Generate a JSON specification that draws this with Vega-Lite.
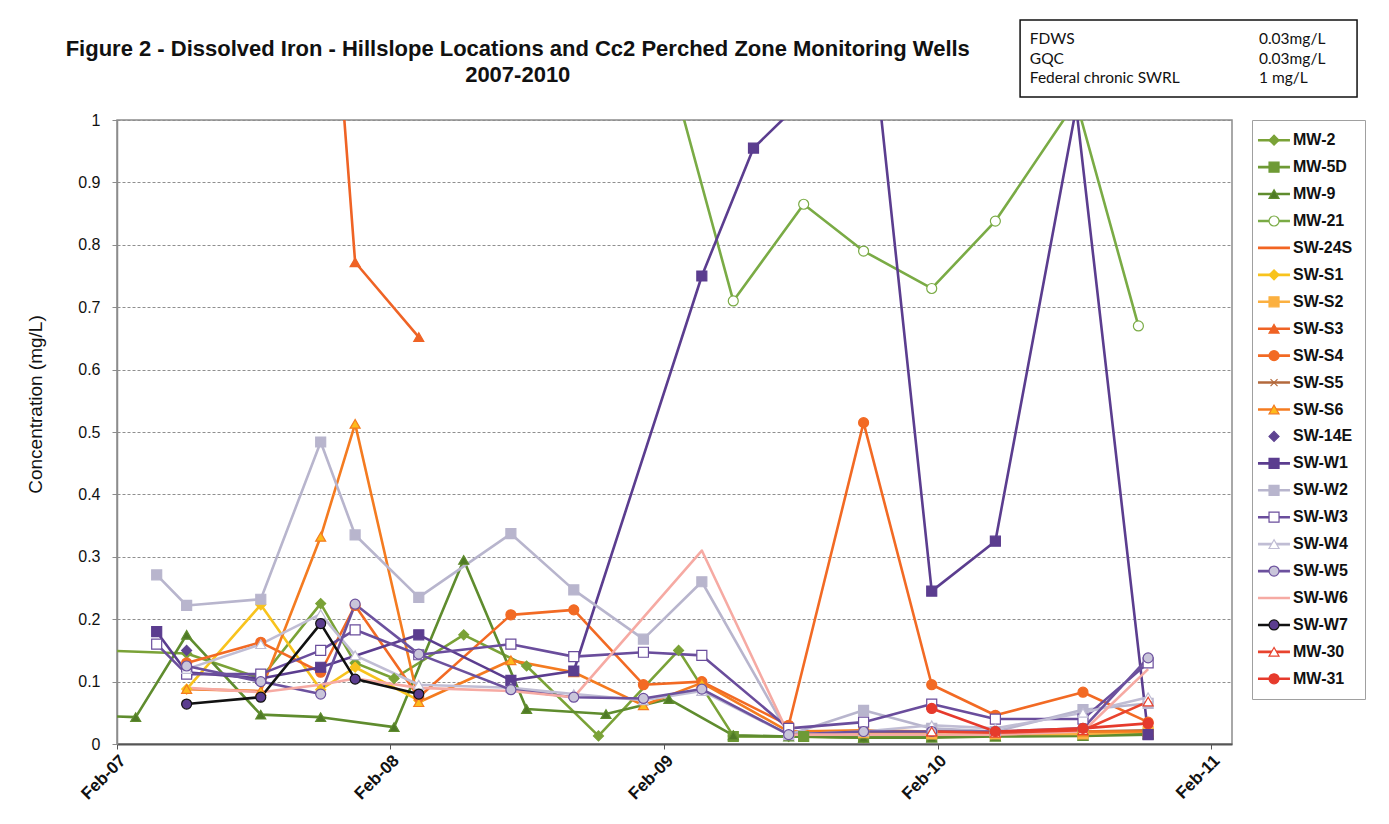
{
  "$schema": "https://vega.github.io/schema/vega-lite/v6.json",
  "background": "white",
  "autosize": {"type": "pad"},
  "padding": {"left": 26, "top": 18, "right": 10, "bottom": 5},
  "bounds": "flush",
  "spacing": 20,
  "resolve": {"scale": {"x": "independent", "y": "independent"}},
  "title": {
    "text": ["Figure 2 - Dissolved Iron - Hillslope Locations and Cc2 Perched Zone Monitoring Wells", "2007-2010"],
    "anchor": "middle",
    "dx": -178,
    "offset": -69,
    "font": "Liberation Sans",
    "fontSize": 22,
    "fontWeight": "bold",
    "lineHeight": 26,
    "color": "#111111"
  },
  "config": {
    "font": "Liberation Sans",
    "axis": {"labelFont": "Liberation Sans", "titleFont": "Liberation Sans"}
  },
  "datasets": {
    "obs": [
      {"s":"MW-2","d":"2007-01-10","v":0.15},{"s":"MW-2","d":"2007-05-05","v":0.145},{"s":"MW-2","d":"2007-08-12","v":0.105},{"s":"MW-2","d":"2007-10-31","v":0.225},{"s":"MW-2","d":"2007-12-16","v":0.13},{"s":"MW-2","d":"2008-02-06","v":0.105},{"s":"MW-2","d":"2008-05-09","v":0.175},{"s":"MW-2","d":"2008-08-01","v":0.125},{"s":"MW-2","d":"2008-11-05","v":0.013},{"s":"MW-2","d":"2009-02-20","v":0.15},{"s":"MW-2","d":"2009-05-04","v":0.013},{"s":"MW-2","d":"2009-07-17","v":0.012},{"s":"MW-2","d":"2009-10-25","v":0.01},{"s":"MW-2","d":"2010-01-24","v":0.012},{"s":"MW-2","d":"2010-04-19","v":0.015},{"s":"MW-2","d":"2010-08-14","v":0.015},{"s":"MW-2","d":"2010-11-09","v":0.02},
      {"s":"MW-5D","d":"2009-05-04","v":0.012},{"s":"MW-5D","d":"2009-08-06","v":0.012},{"s":"MW-5D","d":"2009-10-25","v":0.011},{"s":"MW-5D","d":"2010-01-24","v":0.012},{"s":"MW-5D","d":"2010-04-19","v":0.013},{"s":"MW-5D","d":"2010-08-14","v":0.014},{"s":"MW-5D","d":"2010-11-09","v":0.016},
      {"s":"MW-9","d":"2007-01-10","v":0.045},{"s":"MW-9","d":"2007-02-26","v":0.043},{"s":"MW-9","d":"2007-05-05","v":0.175},{"s":"MW-9","d":"2007-08-12","v":0.047},{"s":"MW-9","d":"2007-10-31","v":0.043},{"s":"MW-9","d":"2008-02-06","v":0.027},{"s":"MW-9","d":"2008-05-09","v":0.295},{"s":"MW-9","d":"2008-08-01","v":0.056},{"s":"MW-9","d":"2008-11-15","v":0.048},{"s":"MW-9","d":"2009-02-07","v":0.072},{"s":"MW-9","d":"2009-05-04","v":0.014},{"s":"MW-9","d":"2009-07-17","v":0.012},{"s":"MW-9","d":"2009-10-25","v":0.01},{"s":"MW-9","d":"2010-01-24","v":0.01},{"s":"MW-9","d":"2010-04-19","v":0.012},{"s":"MW-9","d":"2010-08-14","v":0.013},{"s":"MW-9","d":"2010-11-09","v":0.015},
      {"s":"MW-21","d":"2009-01-04","v":1.24},{"s":"MW-21","d":"2009-05-04","v":0.71},{"s":"MW-21","d":"2009-08-06","v":0.865},{"s":"MW-21","d":"2009-10-25","v":0.79},{"s":"MW-21","d":"2010-01-24","v":0.73},{"s":"MW-21","d":"2010-04-19","v":0.838},{"s":"MW-21","d":"2010-08-05","v":1.03},{"s":"MW-21","d":"2010-10-27","v":0.67},
      {"s":"SW-24S","d":"2007-10-31","v":1.6},{"s":"SW-24S","d":"2007-12-16","v":1.35},
      {"s":"SW-S1","d":"2007-05-05","v":0.088},{"s":"SW-S1","d":"2007-08-12","v":0.223},{"s":"SW-S1","d":"2007-10-31","v":0.087},{"s":"SW-S1","d":"2007-12-16","v":0.123},{"s":"SW-S1","d":"2008-03-10","v":0.07},
      {"s":"SW-S2","d":"2009-07-17","v":0.02},{"s":"SW-S2","d":"2009-10-25","v":0.018},{"s":"SW-S2","d":"2010-01-24","v":0.016},{"s":"SW-S2","d":"2010-04-19","v":0.016},{"s":"SW-S2","d":"2010-08-14","v":0.016},{"s":"SW-S2","d":"2010-11-09","v":0.02},
      {"s":"SW-S3","d":"2007-10-31","v":1.5},{"s":"SW-S3","d":"2007-12-16","v":0.772},{"s":"SW-S3","d":"2008-03-10","v":0.652},
      {"s":"SW-S4","d":"2007-05-05","v":0.13},{"s":"SW-S4","d":"2007-08-12","v":0.163},{"s":"SW-S4","d":"2007-10-31","v":0.115},{"s":"SW-S4","d":"2007-12-16","v":0.222},{"s":"SW-S4","d":"2008-03-10","v":0.075},{"s":"SW-S4","d":"2008-07-11","v":0.207},{"s":"SW-S4","d":"2008-10-03","v":0.215},{"s":"SW-S4","d":"2009-01-04","v":0.095},{"s":"SW-S4","d":"2009-03-23","v":0.1},{"s":"SW-S4","d":"2009-07-17","v":0.03},{"s":"SW-S4","d":"2009-10-25","v":0.515},{"s":"SW-S4","d":"2010-01-24","v":0.095},{"s":"SW-S4","d":"2010-04-19","v":0.046},{"s":"SW-S4","d":"2010-08-14","v":0.083},{"s":"SW-S4","d":"2010-11-09","v":0.035},
      {"s":"SW-S5","d":"2009-07-17","v":0.018},{"s":"SW-S5","d":"2009-10-25","v":0.02},{"s":"SW-S5","d":"2010-01-24","v":0.02},{"s":"SW-S5","d":"2010-04-19","v":0.02},{"s":"SW-S5","d":"2010-08-14","v":0.02},{"s":"SW-S5","d":"2010-11-09","v":0.022},
      {"s":"SW-S6","d":"2007-05-05","v":0.088},{"s":"SW-S6","d":"2007-08-12","v":0.085},{"s":"SW-S6","d":"2007-10-31","v":0.332},{"s":"SW-S6","d":"2007-12-16","v":0.513},{"s":"SW-S6","d":"2008-03-10","v":0.067},{"s":"SW-S6","d":"2008-07-11","v":0.134},{"s":"SW-S6","d":"2008-10-03","v":0.115},{"s":"SW-S6","d":"2009-01-04","v":0.062},{"s":"SW-S6","d":"2009-03-23","v":0.098},{"s":"SW-S6","d":"2009-07-17","v":0.02},{"s":"SW-S6","d":"2009-10-25","v":0.022},{"s":"SW-S6","d":"2010-01-24","v":0.02},{"s":"SW-S6","d":"2010-04-19","v":0.02},{"s":"SW-S6","d":"2010-08-14","v":0.02},{"s":"SW-S6","d":"2010-11-09","v":0.02},
      {"s":"SW-14E","d":"2007-05-05","v":0.15},
      {"s":"SW-W1","d":"2007-03-26","v":0.18},{"s":"SW-W1","d":"2007-05-05","v":0.115},{"s":"SW-W1","d":"2007-08-12","v":0.105},{"s":"SW-W1","d":"2007-10-31","v":0.123},{"s":"SW-W1","d":"2008-03-10","v":0.175},{"s":"SW-W1","d":"2008-07-11","v":0.102},{"s":"SW-W1","d":"2008-10-03","v":0.117},{"s":"SW-W1","d":"2009-03-23","v":0.75},{"s":"SW-W1","d":"2009-05-31","v":0.955},{"s":"SW-W1","d":"2009-07-17","v":1.01},{"s":"SW-W1","d":"2009-10-25","v":1.27},{"s":"SW-W1","d":"2010-01-24","v":0.245},{"s":"SW-W1","d":"2010-04-19","v":0.325},{"s":"SW-W1","d":"2010-08-05","v":1.02},{"s":"SW-W1","d":"2010-11-09","v":0.015},
      {"s":"SW-W2","d":"2007-03-26","v":0.271},{"s":"SW-W2","d":"2007-05-05","v":0.222},{"s":"SW-W2","d":"2007-08-12","v":0.232},{"s":"SW-W2","d":"2007-10-31","v":0.484},{"s":"SW-W2","d":"2007-12-16","v":0.335},{"s":"SW-W2","d":"2008-03-10","v":0.235},{"s":"SW-W2","d":"2008-07-11","v":0.337},{"s":"SW-W2","d":"2008-10-03","v":0.247},{"s":"SW-W2","d":"2009-01-04","v":0.168},{"s":"SW-W2","d":"2009-03-23","v":0.26},{"s":"SW-W2","d":"2009-07-17","v":0.015},{"s":"SW-W2","d":"2009-10-25","v":0.054},{"s":"SW-W2","d":"2010-01-24","v":0.025},{"s":"SW-W2","d":"2010-04-19","v":0.02},{"s":"SW-W2","d":"2010-08-14","v":0.055},{"s":"SW-W2","d":"2010-11-09","v":0.065},
      {"s":"SW-W3","d":"2007-03-26","v":0.16},{"s":"SW-W3","d":"2007-05-05","v":0.112},{"s":"SW-W3","d":"2007-08-12","v":0.112},{"s":"SW-W3","d":"2007-10-31","v":0.15},{"s":"SW-W3","d":"2007-12-16","v":0.183},{"s":"SW-W3","d":"2008-03-10","v":0.143},{"s":"SW-W3","d":"2008-07-11","v":0.16},{"s":"SW-W3","d":"2008-10-03","v":0.14},{"s":"SW-W3","d":"2009-01-04","v":0.147},{"s":"SW-W3","d":"2009-03-23","v":0.142},{"s":"SW-W3","d":"2009-07-17","v":0.025},{"s":"SW-W3","d":"2009-10-25","v":0.035},{"s":"SW-W3","d":"2010-01-24","v":0.064},{"s":"SW-W3","d":"2010-04-19","v":0.04},{"s":"SW-W3","d":"2010-08-14","v":0.04},{"s":"SW-W3","d":"2010-11-09","v":0.13},
      {"s":"SW-W4","d":"2007-05-05","v":0.12},{"s":"SW-W4","d":"2007-08-12","v":0.16},{"s":"SW-W4","d":"2007-10-31","v":0.208},{"s":"SW-W4","d":"2007-12-16","v":0.142},{"s":"SW-W4","d":"2008-03-10","v":0.095},{"s":"SW-W4","d":"2008-07-11","v":0.09},{"s":"SW-W4","d":"2008-10-03","v":0.08},{"s":"SW-W4","d":"2009-01-04","v":0.07},{"s":"SW-W4","d":"2009-03-23","v":0.085},{"s":"SW-W4","d":"2009-07-17","v":0.015},{"s":"SW-W4","d":"2009-10-25","v":0.02},{"s":"SW-W4","d":"2010-01-24","v":0.03},{"s":"SW-W4","d":"2010-04-19","v":0.025},{"s":"SW-W4","d":"2010-08-14","v":0.05},{"s":"SW-W4","d":"2010-11-09","v":0.075},
      {"s":"SW-W5","d":"2007-05-05","v":0.125},{"s":"SW-W5","d":"2007-08-12","v":0.1},{"s":"SW-W5","d":"2007-10-31","v":0.08},{"s":"SW-W5","d":"2007-12-16","v":0.224},{"s":"SW-W5","d":"2008-03-10","v":0.144},{"s":"SW-W5","d":"2008-07-11","v":0.087},{"s":"SW-W5","d":"2008-10-03","v":0.075},{"s":"SW-W5","d":"2009-01-04","v":0.073},{"s":"SW-W5","d":"2009-03-23","v":0.088},{"s":"SW-W5","d":"2009-07-17","v":0.015},{"s":"SW-W5","d":"2009-10-25","v":0.02},{"s":"SW-W5","d":"2010-01-24","v":0.02},{"s":"SW-W5","d":"2010-04-19","v":0.02},{"s":"SW-W5","d":"2010-08-14","v":0.025},{"s":"SW-W5","d":"2010-11-09","v":0.138},
      {"s":"SW-W6","d":"2007-05-05","v":0.09},{"s":"SW-W6","d":"2007-08-12","v":0.083},{"s":"SW-W6","d":"2007-10-31","v":0.095},{"s":"SW-W6","d":"2007-12-16","v":0.105},{"s":"SW-W6","d":"2008-03-10","v":0.09},{"s":"SW-W6","d":"2008-07-11","v":0.085},{"s":"SW-W6","d":"2008-10-03","v":0.075},{"s":"SW-W6","d":"2009-03-23","v":0.31},{"s":"SW-W6","d":"2009-07-17","v":0.015},{"s":"SW-W6","d":"2009-10-25","v":0.015},{"s":"SW-W6","d":"2010-01-24","v":0.015},{"s":"SW-W6","d":"2010-04-19","v":0.015},{"s":"SW-W6","d":"2010-08-14","v":0.02},{"s":"SW-W6","d":"2010-11-09","v":0.12},
      {"s":"SW-W7","d":"2007-05-05","v":0.064},{"s":"SW-W7","d":"2007-08-12","v":0.075},{"s":"SW-W7","d":"2007-10-31","v":0.193},{"s":"SW-W7","d":"2007-12-16","v":0.104},{"s":"SW-W7","d":"2008-03-10","v":0.08},
      {"s":"MW-30","d":"2010-01-24","v":0.02},{"s":"MW-30","d":"2010-04-19","v":0.018},{"s":"MW-30","d":"2010-08-14","v":0.022},{"s":"MW-30","d":"2010-11-09","v":0.068},
      {"s":"MW-31","d":"2010-01-24","v":0.057},{"s":"MW-31","d":"2010-04-19","v":0.02},{"s":"MW-31","d":"2010-08-14","v":0.025},{"s":"MW-31","d":"2010-11-09","v":0.033}
    ],
    "series": [
      {"s":"MW-2"},{"s":"MW-5D"},{"s":"MW-9"},{"s":"MW-21"},{"s":"SW-24S"},{"s":"SW-S1"},{"s":"SW-S2"},{"s":"SW-S3"},{"s":"SW-S4"},{"s":"SW-S5"},{"s":"SW-S6"},{"s":"SW-14E"},{"s":"SW-W1"},{"s":"SW-W2"},{"s":"SW-W3"},{"s":"SW-W4"},{"s":"SW-W5"},{"s":"SW-W6"},{"s":"SW-W7"},{"s":"MW-30"},{"s":"MW-31"}
    ],
    "info": [
      {"names": "FDWS\nGQC\nFederal chronic SWRL", "limits": "0.03mg/L\n0.03mg/L\n1 mg/L"}
    ]
  },
  "hconcat": [
    {
      "width": 1115,
      "height": 624,
      "view": {"stroke": "#8c8c8c", "strokeWidth": 1.5},
      "layer": [
        {
          "data": {"name": "obs"},
          "transform": [{"filter": "datum.s !== 'SW-14E'"}],
          "mark": {"type": "line", "strokeWidth": 2.6, "clip": true, "strokeJoin": "round"},
          "encoding": {
            "x": {
              "field": "d", "type": "temporal",
              "scale": {"type": "utc", "domain": [{"year": 2007, "month": 2, "date": 1, "utc": true}, {"year": 2011, "month": 3, "date": 1, "utc": true}]},
              "axis": {
                "values": [{"year": 2007, "month": 2, "date": 1, "utc": true}, {"year": 2008, "month": 2, "date": 1, "utc": true}, {"year": 2009, "month": 2, "date": 1, "utc": true}, {"year": 2010, "month": 2, "date": 1, "utc": true}, {"year": 2011, "month": 2, "date": 1, "utc": true}],
                "format": "%b-%y",
                "labelAngle": -45,
                "labelFontSize": 17,
                "labelFontWeight": "bold",
                "labelColor": "#111111",
                "labelPadding": 3,
                "grid": false,
                "domainColor": "#555555",
                "domainWidth": 2,
                "tickColor": "#555555",
                "tickSize": 5,
                "title": null
              }
            },
            "y": {
              "field": "v", "type": "quantitative",
              "scale": {"domain": [0, 1]},
              "axis": {
                "values": [0, 0.1, 0.2, 0.3, 0.4, 0.5, 0.6, 0.7, 0.8, 0.9, 1],
                "format": ".1~f",
                "grid": true,
                "gridColor": "#8f8f8f",
                "gridDash": [3, 2],
                "gridWidth": 1,
                "domainColor": "#8c8c8c",
                "domainWidth": 1.5,
                "tickColor": "#8c8c8c",
                "tickSize": 5,
                "labelFontSize": 16,
                "labelPadding": 12,
                "labelColor": "#111111",
                "title": "Concentration (mg/L)",
                "titleFontSize": 19,
                "titleFontWeight": "normal",
                "titleColor": "#111111",
                "titlePadding": 32,
                "titleY": 284
              }
            },
            "stroke": {
              "field": "s", "type": "nominal", "legend": null,
              "scale": {
                "domain": ["MW-2","MW-5D","MW-9","MW-21","SW-24S","SW-S1","SW-S2","SW-S3","SW-S4","SW-S5","SW-S6","SW-14E","SW-W1","SW-W2","SW-W3","SW-W4","SW-W5","SW-W6","SW-W7","MW-30","MW-31"],
                "range": ["#7aa237","#6e9a35","#5f8c2e","#7aab45","#f26522","#f8c31d","#fbb040","#ef6325","#f26a24","#b3693c","#f47b20","#5e4391","#5b3d8f","#b8b5cd","#6a4d9c","#c0bdd4","#6c519e","#f6aaa3","#111111","#e8432e","#e63a2c"]
              }
            }
          }
        },
        {
          "data": {"name": "obs"},
          "transform": [{"filter": "datum.s !== 'SW-W6' && datum.v <= 1"}],
          "mark": {"type": "point", "filled": true, "size": 100, "strokeWidth": 1.2, "opacity": 1, "clip": true},
          "encoding": {
            "x": {"field": "d", "type": "temporal"},
            "y": {"field": "v", "type": "quantitative"},
            "stroke": {"field": "s", "type": "nominal", "legend": null},
            "fill": {
              "field": "s", "type": "nominal", "legend": null,
              "scale": {
                "domain": ["MW-2","MW-5D","MW-9","MW-21","SW-24S","SW-S1","SW-S2","SW-S3","SW-S4","SW-S5","SW-S6","SW-14E","SW-W1","SW-W2","SW-W3","SW-W4","SW-W5","SW-W6","SW-W7","MW-30","MW-31"],
                "range": ["#7aa237","#6e9a35","#4f7a26","#ffffff","#f26522","#f8c31d","#fbb040","#ef6325","#f26a24","#b3693c","#fdbb1b","#5e4391","#5b3d8f","#b8b5cd","#ffffff","#ffffff","#c9c5da","#f6aaa3","#5b3d8f","#ffffff","#e63a2c"]
              }
            },
            "shape": {
              "field": "s", "type": "nominal", "legend": null,
              "scale": {
                "domain": ["MW-2","MW-5D","MW-9","MW-21","SW-24S","SW-S1","SW-S2","SW-S3","SW-S4","SW-S5","SW-S6","SW-14E","SW-W1","SW-W2","SW-W3","SW-W4","SW-W5","SW-W6","SW-W7","MW-30","MW-31"],
                "range": ["diamond","square","triangle-up","circle","stroke","diamond","square","triangle-up","circle","M-0.7,-0.7L0.7,0.7M-0.7,0.7L0.7,-0.7","triangle-up","diamond","square","square","square","triangle-up","circle","circle","circle","triangle-up","circle"]
              }
            }
          }
        },
        {
          "data": {"name": "info"},
          "mark": {"type": "rect", "fill": "white", "stroke": "#111111", "strokeWidth": 1.5, "clip": false},
          "encoding": {
            "x": {"datum": {"year": 2010, "month": 5, "date": 22, "utc": true}, "type": "temporal"},
            "x2": {"datum": {"year": 2011, "month": 8, "date": 15, "utc": true}},
            "y": {"datum": 1.1603, "type": "quantitative"},
            "y2": {"datum": 1.0369}
          }
        },
        {
          "data": {"name": "info"},
          "mark": {"type": "text", "align": "left", "baseline": "top", "font": "Lato", "fontSize": 15.5, "lineHeight": 19.5, "lineBreak": "\n", "color": "#111111", "clip": false},
          "encoding": {
            "x": {"datum": {"year": 2010, "month": 6, "date": 4, "utc": true}, "type": "temporal"},
            "y": {"datum": 1.141, "type": "quantitative"},
            "text": {"field": "names"}
          }
        },
        {
          "data": {"name": "info"},
          "mark": {"type": "text", "align": "left", "baseline": "top", "font": "Lato", "fontSize": 15.5, "lineHeight": 19.5, "lineBreak": "\n", "color": "#111111", "clip": false},
          "encoding": {
            "x": {"datum": {"year": 2011, "month": 4, "date": 6, "utc": true}, "type": "temporal"},
            "y": {"datum": 1.141, "type": "quantitative"},
            "text": {"field": "limits"}
          }
        }
      ]
    },
    {
      "width": 113,
      "height": 579,
      "view": {"stroke": "#a0a0a0", "strokeWidth": 1},
      "data": {"name": "series"},
      "layer": [
        {
          "transform": [{"filter": "datum.s !== 'SW-14E'"}],
          "mark": {"type": "rule", "strokeWidth": 2.6},
          "encoding": {
            "x": {"datum": 0.053, "type": "quantitative", "scale": {"domain": [0, 1]}, "axis": null},
            "x2": {"datum": 0.336},
            "y": {"field": "s", "type": "nominal", "axis": null, "sort": null,
                  "scale": {"type": "point", "padding": 0.75, "domain": ["MW-2","MW-5D","MW-9","MW-21","SW-24S","SW-S1","SW-S2","SW-S3","SW-S4","SW-S5","SW-S6","SW-14E","SW-W1","SW-W2","SW-W3","SW-W4","SW-W5","SW-W6","SW-W7","MW-30","MW-31"]}},
            "stroke": {"field": "s", "type": "nominal", "legend": null}
          }
        },
        {
          "transform": [{"filter": "datum.s !== 'SW-W6'"}],
          "mark": {"type": "point", "filled": true, "size": 100, "strokeWidth": 1.2, "opacity": 1},
          "encoding": {
            "x": {"datum": 0.195, "type": "quantitative"},
            "y": {"field": "s", "type": "nominal"},
            "stroke": {"field": "s", "type": "nominal", "legend": null},
            "fill": {"field": "s", "type": "nominal", "legend": null},
            "shape": {"field": "s", "type": "nominal", "legend": null}
          }
        },
        {
          "mark": {"type": "text", "align": "left", "baseline": "middle", "font": "Liberation Sans", "fontSize": 16, "fontWeight": "bold", "color": "#111111"},
          "encoding": {
            "x": {"datum": 0.363, "type": "quantitative"},
            "y": {"field": "s", "type": "nominal"},
            "text": {"field": "s"}
          }
        }
      ]
    }
  ]
}
